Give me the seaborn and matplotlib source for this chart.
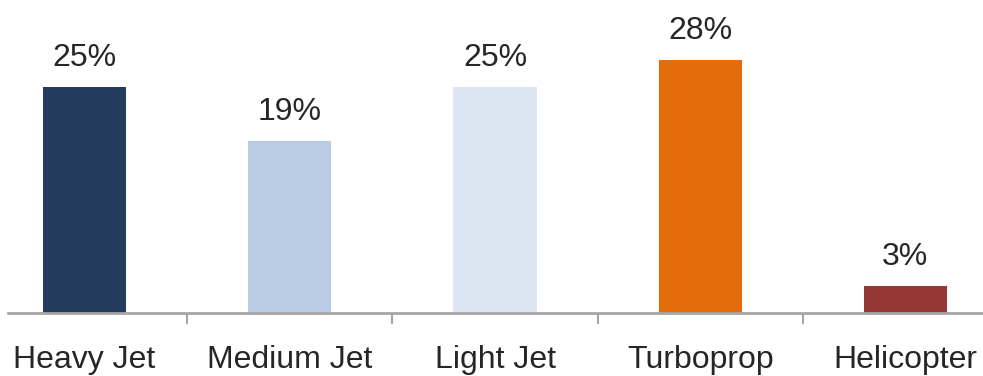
import matplotlib
matplotlib.use('Agg')
import matplotlib.pyplot as plt
import seaborn as sns
import pandas as pd

# data
categories = ['Heavy Jet', 'Medium Jet', 'Light Jet', 'Turboprop', 'Helicopter']
shares = [25, 19, 25, 28, 3]
colors = ['#243D5E', '#B9CDE5', '#DCE6F2', '#E46C0A', '#953735']

df = pd.DataFrame({'category': categories, 'share': shares})

sns.set_style('white')
plt.rcParams['font.family'] = ['Liberation Sans', 'DejaVu Sans']

fig = plt.figure(figsize=(9.83, 3.76), dpi=100)
# axes runs slightly past the figure edges, like the cropped original
ax = fig.add_axes([-18 / 983, 63 / 376, 1026 / 983, 313 / 376])

sns.barplot(data=df, x='category', y='share', hue='category',
            palette=colors, saturation=1, legend=False, width=0.405,
            ax=ax, edgecolor='none')

for c in ax.containers:
    ax.bar_label(c, labels=[f'{v:.0f}%' for v in c.datavalues],
                 padding=10, fontsize=23, color='#262626')

ax.set_xlim(-0.5, 4.5)
ax.set_ylim(0, 34.6)
ax.set_xlabel('')
ax.set_ylabel('')
ax.set_yticks([])

for side in ['top', 'right', 'left']:
    ax.spines[side].set_visible(False)
ax.spines['bottom'].set_color('#A6A6A6')
ax.spines['bottom'].set_linewidth(2)
ax.spines['bottom'].set_bounds(-0.373, 4.373)

# category labels without marks, separators as minor ticks
ax.tick_params(axis='x', which='major', bottom=True, length=0, pad=23,
               labelsize=23, labelcolor='#262626')
ax.set_xticks([0.5, 1.5, 2.5, 3.5], minor=True)
ax.tick_params(axis='x', which='minor', bottom=True, length=8, width=1.5,
               color='#A6A6A6', direction='out')

plt.savefig('out.png', dpi=100)
